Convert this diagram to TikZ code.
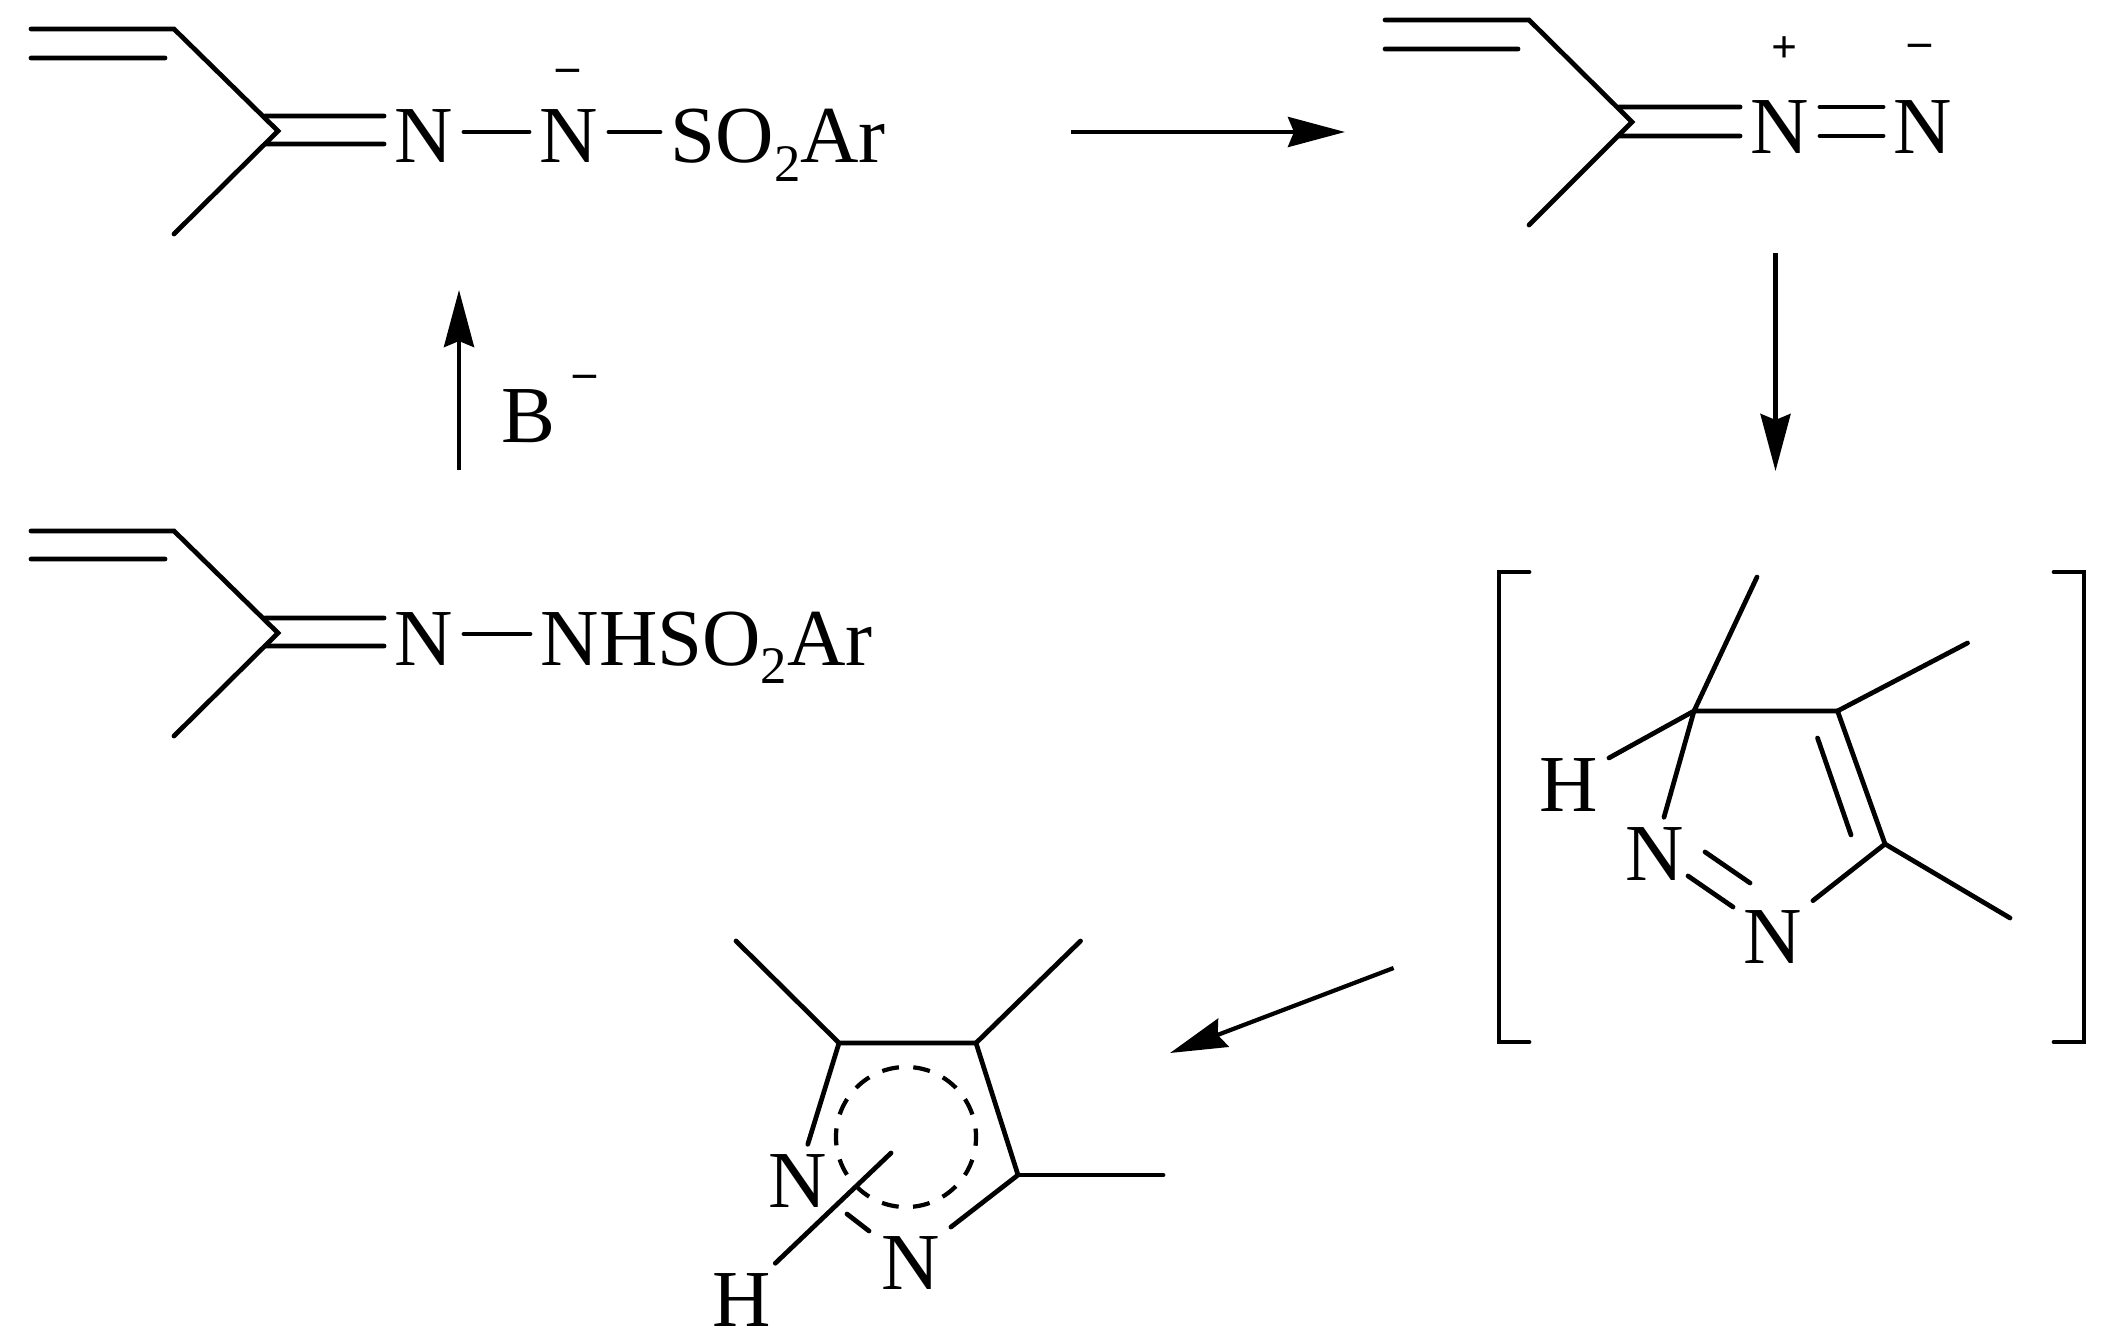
\documentclass[tikz,border=0pt]{standalone}
\usepackage{fontspec}
\setmainfont{Liberation Serif}
\usetikzlibrary{arrows.meta}
\newcommand{\subtwo}{\raisebox{-0.18cm}{\fontsize{15}{15}\selectfont 2}}
\tikzset{
	bond/.style={line width=1.35pt,line cap=round},
	rxn/.style={->,line width=1.2pt},
	atom/.style={font=\fontsize{23}{27}\selectfont,inner xsep=0.1cm,inner ysep=0pt,text height=0.62cm,text depth=0pt,anchor=base},
	charge/.style={font=\fontsize{13}{15}\selectfont\bfseries,inner sep=0pt}
}
\begin{document}
\begin{tikzpicture}[>={Stealth[length=0.57cm,width=0.3cm,inset=0.06cm]},x=0.01cm,y=-0.01cm]
		\useasboundingbox (0,0) rectangle (2104,1340);
		
		\coordinate (ta0) at (31,29);
		\coordinate (ta1) at (174,29);
		\coordinate (ta2) at (278,131);
		\coordinate (ta3) at (174,234);
		\node[atom] (tn1) at (424,163) {N};
		\node[atom] (tn2) at (569,163) {N};
		\node[atom,anchor=base west] (tsa) at (660,163) {SO\subtwo Ar};
		\node[charge] (tneg) at (568,75) {–};
		\draw[bond] (ta0) -- (ta1) -- (ta2) -- (ta3);
		\draw[bond] ([yshift=-0.29cm]ta0) -- ([shift={(-9,29)}]ta1);
		\draw[bond] ([shift={(-13,-15)}]ta2) -- ([yshift=0.16cm]tn1.west);
		\draw[bond] ([shift={(-13,13)}]ta2) -- ([yshift=-0.12cm]tn1.west);
		\draw[bond] (tn1) -- (tn2);
		\draw[bond] (tn2) -- (tsa);
		
		\coordinate (ba0) at (31,531);
		\coordinate (ba1) at (174,531);
		\coordinate (ba2) at (278,633);
		\coordinate (ba3) at (174,736);
		\node[atom] (bn1) at (424,665) {N};
		\node[atom,anchor=base west] (bsa) at (530,665) {NHSO\subtwo Ar};
		\draw[bond] (ba0) -- (ba1) -- (ba2) -- (ba3);
		\draw[bond] ([yshift=-0.28cm]ba0) -- ([shift={(-9,28)}]ba1);
		\draw[bond] ([shift={(-13,-15)}]ba2) -- ([yshift=0.16cm]bn1.west);
		\draw[bond] ([shift={(-13,13)}]ba2) -- ([yshift=-0.12cm]bn1.west);
		\draw[bond] (bn1) -- (bsa);
		
		\coordinate (da0) at (1385,20);
		\coordinate (da1) at (1529,20);
		\coordinate (da2) at (1632,122);
		\coordinate (da3) at (1529,225);
		\node[atom] (dn1) at (1780,154) {N};
		\node[atom] (dn2) at (1923,154) {N};
		\node[charge] (dpos) at (1784,50) {+};
		\node[charge] (dneg) at (1920,50) {–};
		\draw[bond] (da0) -- (da1) -- (da2) -- (da3);
		\draw[bond] ([yshift=-0.29cm]da0) -- ([shift={(-11,29)}]da1);
		\draw[bond] ([shift={(-13,-15)}]da2) -- ([yshift=0.16cm]dn1.west);
		\draw[bond] ([shift={(-13,14)}]da2) -- ([yshift=-0.13cm]dn1.west);
		\draw[bond] ([yshift=0.16cm]dn1.east) -- ([yshift=0.16cm]dn2.west);
		\draw[bond] ([yshift=-0.13cm]dn1.east) -- ([yshift=-0.13cm]dn2.west);
		
		\coordinate (ra) at (1694,711);
		\coordinate (rb) at (1837.5,711);
		\coordinate (rc) at (1885,844);
		\coordinate (rm1) at (1757,577);
		\coordinate (rm2) at (1967.5,643);
		\coordinate (rm3) at (2010,918);
		\node[atom] (rh) at (1569,811) {H};
		\node[atom] (rn1) at (1655,880) {N};
		\node[atom] (rn2) at (1773,963) {N};
		\draw[bond] (rm1) -- (ra) -- (rb) -- (rc) -- (rn2);
		\draw[bond] (ra) -- (rh);
		\draw[bond] (ra) -- (rn1);
		\draw[bond] (rb) -- (rm2);
		\draw[bond] (rc) -- (rm3);
		\draw[bond] ([shift={(-20,27)}]rb) -- ([shift={(-34,-9)}]rc);
		\draw[bond] ([shift={(50,3)}]rn1.center) -- ([shift={(-23,-49)}]rn2.center);
		\draw[bond] ([shift={(33,27)}]rn1.center) -- ([shift={(-40,-25)}]rn2.center);
		\coordinate (blt) at (1499,572);
		\coordinate (blb) at (1499,1042);
		\coordinate (brt) at (2084,572);
		\coordinate (brb) at (2084,1042);
		\draw[bond,line join=miter] ([xshift=0.3cm]blt) -- (blt) -- (blb) -- ([xshift=0.3cm]blb);
		\draw[bond,line join=miter] ([xshift=-0.3cm]brt) -- (brt) -- (brb) -- ([xshift=-0.3cm]brb);
		
		\coordinate (pa) at (839,1043);
		\coordinate (pb) at (976,1043);
		\coordinate (pc) at (1018,1175);
		\coordinate (pm1) at (736,941);
		\coordinate (pm2) at (1080.5,941);
		\coordinate (pm3) at (1163,1175);
		\coordinate (pe) at (891,1153);
		\coordinate (pf) at (906,1137);
		\node[atom] (pn1) at (798,1207) {N};
		\node[atom] (pn2) at (911,1289) {N};
		\node[atom] (ph) at (742,1326) {H};
		\draw[bond] (pm1) -- (pa) -- (pb) -- (pc) -- (pn2);
		\draw[bond] (pa) -- (pn1);
		\draw[bond] (pb) -- (pm2);
		\draw[bond] (pc) -- (pm3);
		\draw[bond] (pe) -- (ph);
		\draw[line width=1.2pt,dash pattern=on 0.17cm off 0.144cm,dash phase=0.085cm] (pf) circle (0.7cm);
		\draw[bond] ([shift={(49,38)}]pn1.center) -- ([shift={(-42,-27)}]pn2.center);
		
		\coordinate (ar1s) at (459,470);
		\coordinate (ar1e) at (459,290);
		\coordinate (ar2s) at (1071,132);
		\coordinate (ar2e) at (1345,132);
		\coordinate (ar3s) at (1775.5,253);
		\coordinate (ar3e) at (1775.5,471);
		\coordinate (ar4s) at (1393.6,968);
		\coordinate (ar4e) at (1170,1053);
		\draw[rxn] (ar1s) -- (ar1e);
		\draw[rxn] (ar2s) -- (ar2e);
		\draw[rxn] (ar3s) -- (ar3e);
		\draw[rxn] (ar4s) -- (ar4e);
		\node[atom] (bb) at (528,443) {B};
		\node[charge] (bneg) at (585,381) {–};
		
		\end{tikzpicture}
\end{document}
